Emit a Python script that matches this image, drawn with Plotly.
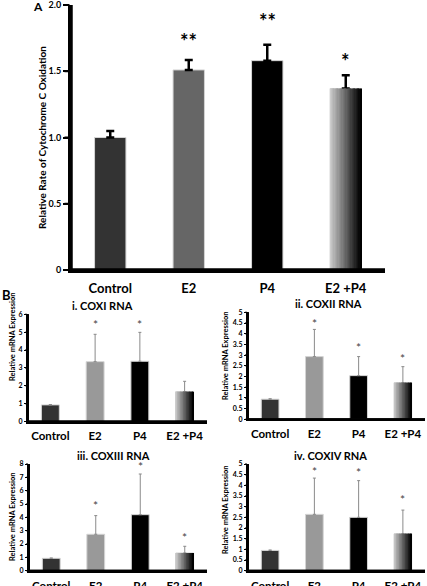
import plotly.graph_objects as go

W, H = 427, 586

categories = ["Control", "E2", "P4", "E2 +P4"]

# Panel A: relative rate of cytochrome c oxidation
a_values = [1.00, 1.51, 1.58, 1.37]
a_errors = [0.05, 0.075, 0.12, 0.10]
a_stars = ["", "**", "**", "*"]
a_star_y = [None, 1.73, 1.88, 1.575]

# Panel B: relative mRNA expression
b_titles = ["i. COXI RNA", "ii. COXII RNA", "iii. COXIII RNA", "iv. COXIV RNA"]
b_values = [
    [0.93, 3.35, 3.37, 1.67],
    [0.94, 2.93, 2.04, 1.71],
    [0.93, 2.73, 4.20, 1.33],
    [0.95, 2.64, 2.50, 1.73],
]
b_errors = [
    [0.02, 1.53, 1.62, 0.58],
    [0.02, 1.27, 0.89, 0.75],
    [0.02, 1.40, 3.05, 0.50],
    [0.02, 1.70, 1.72, 1.11],
]
b_star_y = [
    [None, 5.45, 5.45, None],
    [None, 4.5, 3.35, 2.83],
    [None, 4.9, 7.85, 2.5],
    [None, 4.63, 4.61, 3.32],
]
b_ymax = [6, 5, 8, 5]
b_dtick = [1, 0.5, 1, 0.5]

a_colors = ["#333333", "#666666", "#000000"]
b_colors = ["#333333", "#999999", "#000000"]

FONT = "Lato"


def px_x(p):
    return p / W


def px_y(p):
    return 1 - p / H


fig = go.Figure()

BAR_W = 0.4
N_SLICES = 24


def grad_color(t, light=205):
    v = int(round(light * (1 - t)))
    return f"rgb({v},{v},{v})"


def add_panel(idx, values, errors, colors, err_color, err_thick, err_width):
    xa = "x" if idx == 1 else f"x{idx}"
    ya = "y" if idx == 1 else f"y{idx}"
    xs = list(range(len(categories)))
    fill = colors + ["rgba(0,0,0,0)"]
    fig.add_trace(go.Bar(
        x=xs, y=values, width=BAR_W, xaxis=xa, yaxis=ya,
        marker=dict(color=fill, line=dict(color="#d4d4d4", width=1)),
        error_y=dict(type="data", symmetric=False, array=errors,
                     arrayminus=[0] * len(errors), color=err_color,
                     thickness=err_thick, width=err_width),
        showlegend=False, hoverinfo="skip",
    ))
    # gradient bar for the combined treatment
    gi = len(categories) - 1
    sw = BAR_W / N_SLICES
    fig.add_trace(go.Bar(
        x=[gi] * N_SLICES, y=[values[gi]] * N_SLICES,
        width=[sw * 1.05] * N_SLICES,
        offset=[-BAR_W / 2 + k * sw for k in range(N_SLICES)],
        xaxis=xa, yaxis=ya,
        marker=dict(color=[grad_color(k / (N_SLICES - 1)) for k in range(N_SLICES)],
                    line=dict(width=0)),
        showlegend=False, hoverinfo="skip",
    ))


shapes = []


def add_frame(idx, xl, xr, yb, yt, ymax, tickvals, lw, ticklen, tickw):
    """Axis lines + y tick marks. Drawn as error-bar strokes (trace layer, unclipped)
    and as paper rectangles at the same spots."""
    xa = "x" if idx == 1 else f"x{idx}"
    ya = "y" if idx == 1 else f"y{idx}"
    kx = (xr - xl) / 4.0
    # axis lines: from the origin corner, error_x to the right end, error_y to the top
    fig.add_trace(go.Scatter(
        x=[-0.5], y=[0], mode="markers", xaxis=xa, yaxis=ya, cliponaxis=False,
        marker=dict(size=1, color="rgba(0,0,0,0)"),
        error_x=dict(type="data", symmetric=False, array=[4], arrayminus=[lw / kx],
                     color="black", thickness=lw, width=0.5),
        error_y=dict(type="data", symmetric=False, array=[ymax], arrayminus=[0],
                     color="black", thickness=lw, width=0.5),
        showlegend=False, hoverinfo="skip",
    ))
    # tick marks
    fig.add_trace(go.Scatter(
        x=[-0.5] * len(tickvals), y=tickvals, mode="markers", xaxis=xa, yaxis=ya,
        cliponaxis=False, marker=dict(size=1, color="rgba(0,0,0,0)"),
        error_x=dict(type="data", symmetric=False, array=[0] * len(tickvals),
                     arrayminus=[(lw / 2 + ticklen) / kx] * len(tickvals),
                     color="black", thickness=tickw, width=0.5),
        showlegend=False, hoverinfo="skip",
    ))
    # paper rectangles at the same positions
    def prect(x0, x1, y0, y1):
        shapes.append(dict(type="rect", xref="paper", yref="paper",
                           x0=px_x(x0), x1=px_x(x1), y0=px_y(y1), y1=px_y(y0),
                           fillcolor="black", line=dict(width=0), layer="above"))
    prect(xl - lw / 2, xr, yb - lw / 2, yb + lw / 2)
    prect(xl - lw / 2, xl + lw / 2, yt, yb + lw / 2)
    for tv in tickvals:
        py = yb - (tv / ymax) * (yb - yt)
        prect(xl - lw / 2 - ticklen, xl - lw / 2, py - tickw / 2, py + tickw / 2)


add_panel(1, a_values, a_errors, a_colors, "#000000", 2.5, 4)
for i in range(4):
    add_panel(i + 2, b_values[i], b_errors[i], b_colors, "#8a8a8a", 1, 1.5)

layout = dict(
    width=W, height=H, margin=dict(l=0, r=0, t=0, b=0, autoexpand=False),
    paper_bgcolor="white", plot_bgcolor="rgba(0,0,0,0)", barmode="overlay",
    font=dict(family=FONT, color="black"),
)

# Panel A axes
a_ticks = [0, 0.5, 1.0, 1.5, 2.0]
A_X, A_Y = (71, 385), (270, 5)
add_frame(1, A_X[0], A_X[1], A_Y[0], A_Y[1], 2.0, a_ticks, 3, 5, 2)
layout["xaxis"] = dict(
    domain=[px_x(A_X[0]), px_x(A_X[1])], range=[-0.5, 3.5], anchor="y", automargin=False,
    tickvals=list(range(4)), ticktext=categories, showgrid=False, zeroline=False,
    showline=True, linecolor="black", linewidth=3,
    ticks="outside", ticklen=4, tickcolor="rgba(0,0,0,0)",
    ticklabeloverflow="allow",
    tickfont=dict(family=FONT, size=13, weight="bold"),
)
layout["yaxis"] = dict(
    domain=[px_y(A_Y[0]), px_y(A_Y[1])], range=[0, 2.0], anchor="x", automargin=False,
    tickvals=a_ticks, ticktext=["0", "0.5", "1.0", "1.5", "2.0"],
    showgrid=False, zeroline=False, showline=True, linecolor="black", linewidth=3,
    ticks="outside", ticklen=5, tickwidth=2, tickcolor="black",
    ticklabeloverflow="allow",
    tickfont=dict(family=FONT, size=9, weight="bold"),
)

b_dom = [
    ([28, 207], [421.5, 314.3]),
    ([248, 425], [419.3, 312.3]),
    ([29, 207], [570.7, 464]),
    ([248, 425], [570.7, 464]),
]
for i in range(4):
    n = i + 2
    (x0, x1), (y0, y1) = b_dom[i]
    vals = []
    v = 0.0
    while v <= b_ymax[i] + 1e-9:
        vals.append(round(v, 2))
        v += b_dtick[i]
    texts = [("%g" % t) for t in vals]
    add_frame(n, x0, x1, y0, y1, b_ymax[i], vals, 2, 2, 1)
    layout[f"xaxis{n}"] = dict(
        domain=[px_x(x0), px_x(x1)], range=[-0.5, 3.5], anchor=f"y{n}", automargin=False,
        tickvals=list(range(4)), ticktext=categories, showgrid=False, zeroline=False,
        showline=True, linecolor="black", linewidth=2,
        ticks="outside", ticklen=3, tickcolor="rgba(0,0,0,0)",
        ticklabeloverflow="allow",
        tickfont=dict(family=FONT, size=11.5, weight="bold"),
    )
    layout[f"yaxis{n}"] = dict(
        domain=[px_y(y0), px_y(y1)], range=[0, b_ymax[i]], anchor=f"x{n}", automargin=False,
        tickvals=vals, ticktext=texts, showgrid=False, zeroline=False,
        showline=True, linecolor="black", linewidth=2, ticklabeloverflow="allow",
        ticks="outside", ticklen=2, tickwidth=1, tickcolor="black",
        tickfont=dict(family=FONT, size=7, weight="bold"),
    )

annotations = []


def ann(text, x, y, size, **kw):
    d = dict(text=text, x=x, y=y, xref="paper", yref="paper", showarrow=False,
             xanchor="center", yanchor="middle", font=dict(size=size, weight="bold"))
    d.update(kw)
    return d


annotations.append(ann("A", px_x(38), px_y(6), 12))
annotations.append(ann("B", px_x(6), px_y(295), 13))
annotations.append(ann("Relative Rate of Cytochrome C Oxidation", px_x(42), px_y(138), 10,
                       textangle=-90))
for k, s in enumerate(a_stars):
    if s:
        annotations.append(dict(text=s, x=k, y=a_star_y[k], xref="x", yref="y",
                                showarrow=False, xanchor="center", yanchor="middle",
                                font=dict(size=20, weight="bold")))

b_title_pos = [(102, 305), (328, 303), (113, 455), (330, 455)]
b_ytitle_pos = [(12, 337), (225, 356), (12, 517), (225, 510)]
for i in range(4):
    n = i + 2
    tx, ty = b_title_pos[i]
    annotations.append(ann(b_titles[i], px_x(tx), px_y(ty), 11))
    yx, yy = b_ytitle_pos[i]
    annotations.append(ann("Relative mRNA Expression", px_x(yx), px_y(yy), 7.5, textangle=-90))
    for k, sy in enumerate(b_star_y[i]):
        if sy is not None:
            annotations.append(dict(text="*", x=k, y=sy, xref=f"x{n}", yref=f"y{n}",
                                    showarrow=False, xanchor="center", yanchor="middle",
                                    font=dict(size=12, color="#444444")))

layout["annotations"] = annotations
layout["shapes"] = shapes
fig.update_layout(**layout)

fig.write_html("out.html", config={"displayModeBar": False},
               post_script="document.body.style.margin='0';document.body.style.padding='0';")
